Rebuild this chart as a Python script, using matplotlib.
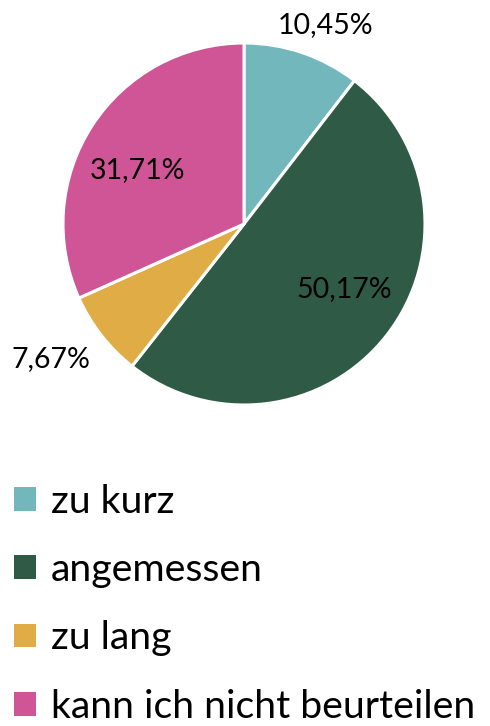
import matplotlib
matplotlib.use("Agg")
import matplotlib.pyplot as plt
import matplotlib.patches as mpatches
import numpy as np

categories = ["zu kurz", "angemessen", "zu lang", "kann ich nicht beurteilen"]
values = [10.45, 50.17, 7.67, 31.71]
labels = ["10,45%", "50,17%", "7,67%", "31,71%"]
colors = ["#72b7bc", "#2f5a46", "#e0ac45", "#d05596"]

plt.rcParams['font.family'] = ['Lato', 'DejaVu Sans']

W, H = 490, 726
fig = plt.figure(figsize=(W / 100, H / 100), dpi=100)
cx, cy, r = 244, 224, 181
ax = fig.add_axes([(cx - r) / W, (H - cy - r) / H, 2 * r / W, 2 * r / H])
wedges, _ = ax.pie(values, colors=colors, startangle=90, counterclock=False,
                   wedgeprops=dict(edgecolor="white", linewidth=2.2), radius=1)
ax.set_xlim(-1, 1)
ax.set_ylim(-1, 1)
ax.set_aspect("equal")
ax.axis("off")

# label placement: (radius, angle offset in degrees)
place = [(1.19, -3.5), (0.66, 5.0), (1.30, -3.0), (0.66, 6.0)]
for w, lab, (rad, doff) in zip(wedges, labels, place):
    ang = np.deg2rad((w.theta1 + w.theta2) / 2 + doff)
    ax.text(rad * np.cos(ang), rad * np.sin(ang), lab, ha="center", va="center",
            fontsize=20.5, color="black", clip_on=False)

handles = [mpatches.Patch(facecolor=c, edgecolor="none") for c in colors]
fig.legend(handles, categories, loc="upper left", bbox_to_anchor=(14 / W, 1 - 484 / H),
           frameon=False, fontsize=28.3, handlelength=0.55, handleheight=0.55,
           handletextpad=0.38, labelspacing=0.82, borderaxespad=0, borderpad=0)

fig.savefig("out.png", dpi=100)
